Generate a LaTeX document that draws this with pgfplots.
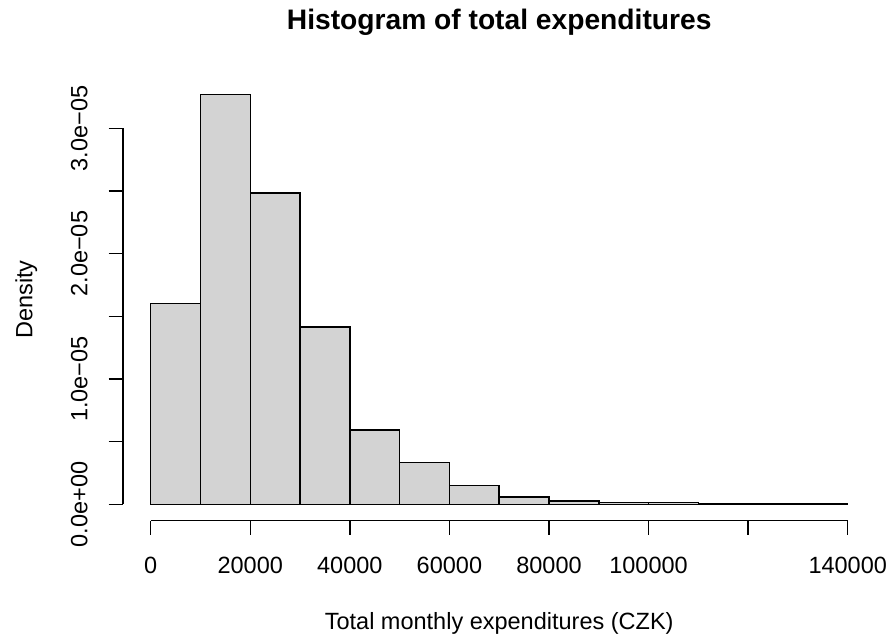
\documentclass[border=0pt]{standalone}
\usepackage{fontspec}
\setmainfont{Liberation Sans}
\usepackage{pgfplots}
\pgfplotsset{compat=1.18}
\usepackage{pgfplotstable}
\definecolor{barfill}{RGB}{211,211,211}
\newcommand\axfont{\fontsize{23.5bp}{28bp}\selectfont}
\pgfplotstableread{
x y
0 1.601e-5
10000 3.269e-5
20000 2.484e-5
30000 1.417e-5
40000 0.593e-5
50000 0.332e-5
60000 0.152e-5
70000 0.058e-5
80000 0.026e-5
90000 0.013e-5
100000 0.013e-5
110000 0.005e-5
120000 0.003e-5
130000 0.002e-5
140000 0
}\histdata
\begin{document}
\begin{tikzpicture}
\begin{axis}[
  at={(0,0)}, anchor=south west,
  scale only axis,
  width=752.8bp, height=442.4bp,
  xmin=-5600, xmax=145600,
  ymin=-1.3076e-6, ymax=3.39976e-5,
  axis x line*=bottom, axis y line*=left,
  axis line style={draw=none},
  tick align=outside,
  major tick length=14.1bp,
  tick style={black, line width=1.5bp},
  scaled x ticks=false, scaled y ticks=false,
  xtick={0,20000,40000,60000,80000,100000,120000,140000},
  xticklabels={0,20000,40000,60000,80000,100000,,140000},
  ytick={0,0.5e-5,1e-5,1.5e-5,2e-5,2.5e-5,3e-5},
  yticklabels={0.0e+00,,1.0e−05,,2.0e−05,,3.0e−05},
  xticklabel style={font=\axfont, anchor=base, inner sep=0pt, yshift=-38.5bp},
  yticklabel style={font=\axfont, xshift=-21.4bp, rotate=90, anchor=base, inner sep=0pt},
  clip=false,
]
\addplot[ybar interval, fill=barfill, draw=black, line width=1.5bp] table[x=x,y=y] {\histdata};
\draw[black, line width=1.5bp] (axis cs:0,-1.3076e-6) -- (axis cs:140000,-1.3076e-6);
\draw[black, line width=1.5bp] (axis cs:-5600,0) -- (axis cs:-5600,3e-5);
\end{axis}
\node[anchor=base, font=\bfseries\fontsize{28.2bp}{34bp}\selectfont] at (376.4bp,491.4bp) {Histogram of total expenditures};
\node[anchor=base, font=\axfont] at (376.4bp,-108.3bp) {Total monthly expenditures (CZK)};
\node[anchor=base, rotate=90, font=\axfont] at (-90.5bp,221.2bp) {Density};
\pgfresetboundingbox
\useasboundingbox (-122.8bp,-119.3bp) rectangle (769.2bp,520.7bp);
\end{tikzpicture}
\end{document}
